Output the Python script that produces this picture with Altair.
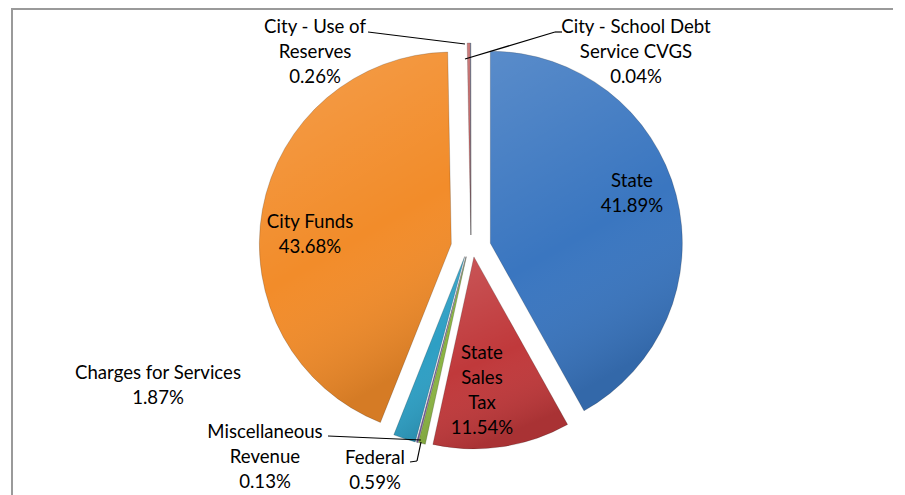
import altair as alt
import pandas as pd

# ---- data ----
categories = ["State", "State Sales Tax", "Federal", "Miscellaneous Revenue",
              "Charges for Services", "City Funds", "City - Use of Reserves",
              "City - School Debt Service CVGS"]
shares = [41.89, 11.54, 0.59, 0.13, 1.87, 43.68, 0.26, 0.04]
label_lines = [["State"], ["State", "Sales", "Tax"], ["Federal"],
               ["Miscellaneous", "Revenue"], ["Charges for Services"],
               ["City Funds"], ["City - Use of", "Reserves"],
               ["City - School Debt", "Service CVGS"]]
colors = ["#3a76c0", "#c0393b", "#8bb443", "#7b5ea3", "#2e9fc4",
          "#f28c2a", "#c46a6a", "#4a6fa5"]

# ---- layout ----
W, H = 885, 487
CX, CY, R = 463, 238, 192
EX, EY = 20, 11          # explosion distance (horizontal, vertical - tilted view)
# position of the first line of each label (plot pixels)
label_xy = [(624, 173), (474, 345), (367, 450), (257, 424), (150, 365),
            (302, 214), (307, 19), (628, 19)]
leaders = [  # x, y, x2, y2
    (360, 24, 457, 36),
    (554, 24, 547, 24), (547, 24, 457, 51),
    (320, 428, 413, 432),
    (402, 454, 409, 453), (409, 453, 413, 434),
]
FONT = "Lato"

slices = pd.DataFrame({"category": categories, "share": shares,
                       "order": list(range(len(categories)))})
labels = pd.DataFrame({
    "text": ["\n".join(l + [f"{s:.2f}%"]) for l, s in zip(label_lines, shares)],
    "x": [p[0] for p in label_xy], "y": [p[1] for p in label_xy]})
lead = pd.DataFrame(leaders, columns=["x", "y", "x2", "y2"])

xs = alt.Scale(domain=[0, W], nice=False, zero=False)
ys = alt.Scale(domain=[0, H], nice=False, zero=False, reverse=True)

pie = (alt.Chart(slices)
       .transform_joinaggregate(total="sum(share)")
       .transform_window(cum="sum(share)", sort=[alt.SortField("order")])
       .transform_calculate(t1="datum.cum / datum.total * 2 * PI",
                            t0="(datum.cum - datum.share) / datum.total * 2 * PI")
       .transform_calculate(mid="(datum.t0 + datum.t1) / 2")
       .transform_calculate(cx=f"{CX} + {EX} * sin(datum.mid)",
                            cy=f"{CY} - {EY} * cos(datum.mid)"))

pos = dict(x=alt.X("cx:Q", scale=xs, axis=None),
           y=alt.Y("cy:Q", scale=ys, axis=None),
           theta=alt.Theta("t0:Q", scale=None),
           theta2=alt.Theta2("t1:Q"))

arcs = pie.mark_arc(radius=R, stroke="#000000", strokeOpacity=0.18,
                    strokeWidth=1).encode(
    color=alt.Color("category:N",
                    scale=alt.Scale(domain=categories, range=colors),
                    legend=None), **pos)

shade = pie.mark_arc(
    radius=R,
    fill=alt.LinearGradient(
        gradient="linear", x1=0, y1=0, x2=0.3, y2=1,
        stops=[alt.GradientStop(offset=0, color="rgba(255,255,255,0.16)"),
               alt.GradientStop(offset=0.6, color="rgba(255,255,255,0)"),
               alt.GradientStop(offset=1, color="rgba(0,0,0,0.12)")])
).encode(**pos)

lines = (alt.Chart(lead).mark_rule(color="#000000", strokeWidth=1.2)
         .encode(x=alt.X("x:Q", scale=xs, axis=None),
                 y=alt.Y("y:Q", scale=ys, axis=None),
                 x2="x2:Q", y2="y2:Q"))

text = (alt.Chart(labels)
        .mark_text(lineBreak="\n", font=FONT, fontSize=18.6, lineHeight=25,
                   align="center", baseline="middle", color="#000000")
        .encode(x=alt.X("x:Q", scale=xs, axis=None),
                y=alt.Y("y:Q", scale=ys, axis=None),
                text="text:N"))

frame_top = alt.Chart(slices).mark_rule(color="#9a9a9a", strokeWidth=2).encode(
    x=alt.value(3), x2=alt.value(W), y=alt.value(1))
frame_left = alt.Chart(slices).mark_rule(color="#9a9a9a", strokeWidth=2).encode(
    x=alt.value(4), y=alt.value(0), y2=alt.value(H))

chart = (alt.layer(frame_top, frame_left, arcs, shade, lines, text)
         .properties(width=W, height=H, padding=0, autosize="none",
                     background="#ffffff")
         .configure_view(stroke=None))

chart.save("out.html", embed_options={"renderer": "svg", "actions": False})
